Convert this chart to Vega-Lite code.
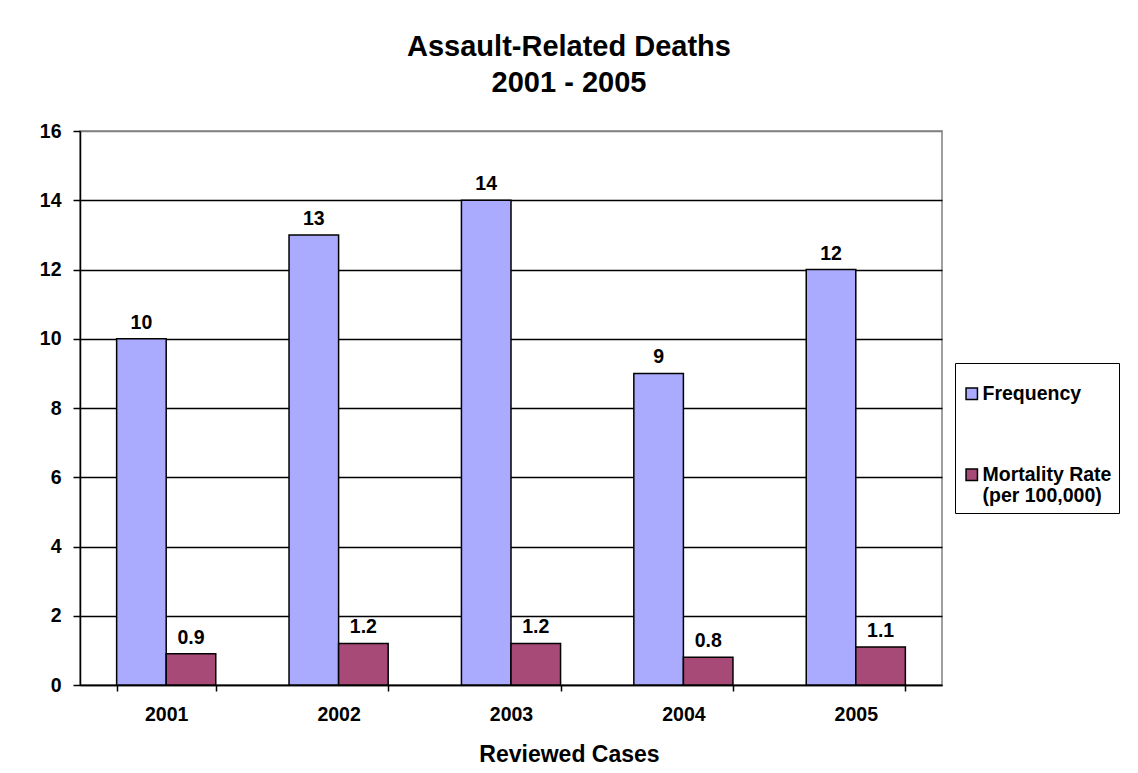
{
  "$schema": "https://vega.github.io/schema/vega-lite/v6.json",
  "width": 862,
  "height": 554,
  "autosize": {"type": "none"},
  "padding": {"left": 80, "top": 131, "right": 196, "bottom": 88},
  "background": "white",
  "title": {
    "text": ["Assault-Related Deaths", "2001 - 2005"],
    "font": "Liberation Sans",
    "fontSize": 29,
    "fontWeight": "bold",
    "color": "black",
    "lineHeight": 36,
    "anchor": "middle",
    "frame": "group",
    "dx": 58,
    "offset": 23
  },
  "config": {
    "view": {"stroke": "#808080", "strokeWidth": 1.5},
    "font": "Liberation Sans"
  },
  "data": {
    "values": [
      {"year": "2001", "series": "Frequency", "value": 10},
      {"year": "2001", "series": "Mortality Rate (per 100,000)", "value": 0.9},
      {"year": "2002", "series": "Frequency", "value": 13},
      {"year": "2002", "series": "Mortality Rate (per 100,000)", "value": 1.2},
      {"year": "2003", "series": "Frequency", "value": 14},
      {"year": "2003", "series": "Mortality Rate (per 100,000)", "value": 1.2},
      {"year": "2004", "series": "Frequency", "value": 9},
      {"year": "2004", "series": "Mortality Rate (per 100,000)", "value": 0.8},
      {"year": "2005", "series": "Frequency", "value": 12},
      {"year": "2005", "series": "Mortality Rate (per 100,000)", "value": 1.1}
    ]
  },
  "encoding": {
    "x": {
      "field": "year",
      "type": "nominal",
      "scale": {"paddingInner": 0.425, "paddingOuter": 0.2125},
      "axis": {
        "title": "Reviewed Cases",
        "titleFontSize": 23,
        "titleFontWeight": "bold",
        "titleColor": "black",
        "titlePadding": 20,
        "titleX": 489,
        "titleAlign": "center",
        "labelAngle": 0,
        "labelFontSize": 19.5,
        "labelFontWeight": "bold",
        "labelColor": "black",
        "labelPadding": 14,
        "domainColor": "black",
        "domainWidth": 1.5,
        "tickColor": "black",
        "tickWidth": 1.5,
        "tickSize": 6,
        "tickBand": "extent",
        "grid": false
      }
    },
    "xOffset": {
      "field": "series",
      "type": "nominal",
      "sort": ["Frequency", "Mortality Rate (per 100,000)"],
      "scale": {"paddingInner": 0, "paddingOuter": 0}
    },
    "y": {
      "field": "value",
      "type": "quantitative",
      "scale": {"domain": [0, 16], "nice": false},
      "axis": {
        "title": null,
        "values": [0, 2, 4, 6, 8, 10, 12, 14, 16],
        "labelFontSize": 19.5,
        "labelFontWeight": "bold",
        "labelColor": "black",
        "labelPadding": 12,
        "domainColor": "black",
        "domainWidth": 1.5,
        "tickColor": "black",
        "tickWidth": 1.5,
        "tickSize": 7,
        "grid": true,
        "gridColor": {"condition": {"test": "datum.value == 16", "value": "#808080"}, "value": "black"},
        "gridWidth": 1.5,
        "gridOpacity": 1
      }
    }
  },
  "layer": [
    {
      "mark": {"type": "bar", "stroke": "black", "strokeWidth": 1.5},
      "encoding": {
        "color": {
          "field": "series",
          "type": "nominal",
          "scale": {
            "domain": ["Frequency", "Mortality Rate (per 100,000)"],
            "range": ["#AAAAFF", "#A84A77"]
          },
          "legend": {
            "title": " ",
            "titleFontSize": 8,
            "titlePadding": 6,
            "orient": "none",
            "legendX": 875,
            "legendY": 232,
            "strokeColor": "black",
            "fillColor": "white",
            "padding": 7,
            "symbolType": "square",
            "symbolSize": 130,
            "symbolStrokeColor": "black",
            "symbolStrokeWidth": 1.5,
            "symbolOpacity": 1,
            "labelFontSize": 19.5,
            "labelFontWeight": "bold",
            "labelColor": "black",
            "labelOffset": 1,
            "labelLimit": 300,
            "rowPadding": 60,
            "labelExpr": "datum.label == 'Frequency' ? 'Frequency' : ['Mortality Rate', '(per 100,000)']"
          }
        }
      }
    },
    {
      "mark": {
        "type": "text",
        "baseline": "bottom",
        "dy": -6,
        "fontSize": 19.5,
        "fontWeight": "bold",
        "color": "black"
      },
      "encoding": {
        "text": {"field": "value", "type": "nominal"}
      }
    }
  ]
}
